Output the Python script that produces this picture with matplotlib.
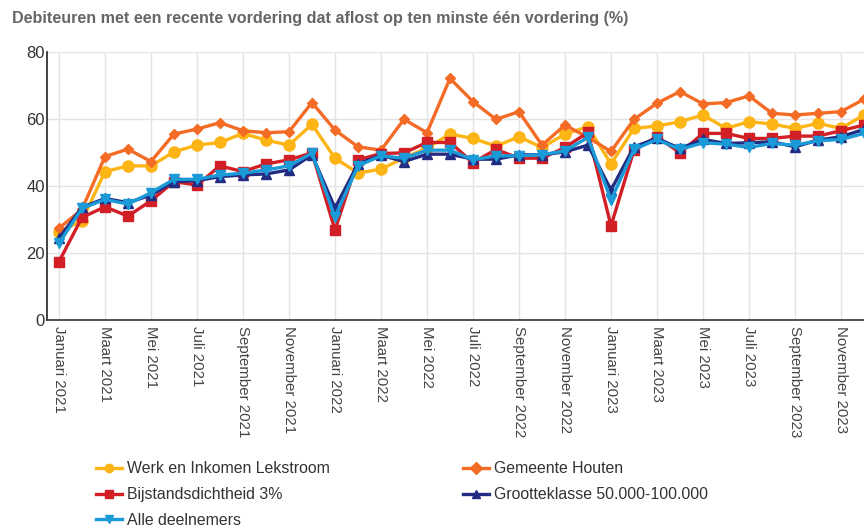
import matplotlib
matplotlib.use("Agg")
import matplotlib.pyplot as plt

# maanden jan 2021 .. dec 2023
maanden = ["Januari", "Februari", "Maart", "April", "Mei", "Juni", "Juli",
           "Augustus", "September", "Oktober", "November", "December"]
labels = [f"{m} {j}" for j in (2021, 2022, 2023) for m in maanden]

werk_lekstroom = [26.4, 29.6, 44.3, 46.0, 46.0, 50.2, 52.2, 53.0, 55.7, 53.7, 52.2, 58.4,
                  48.3, 43.9, 45.0, 48.4, 51.3, 55.5, 54.2, 51.9, 54.7, 51.5, 55.5, 57.7,
                  46.6, 57.2, 57.9, 59.2, 61.2, 57.2, 59.2, 58.5, 57.2, 58.7, 57.2, 61.2]
gemeente_houten = [27.4, 33.0, 48.8, 51.0, 47.3, 55.5, 57.0, 58.9, 56.5, 55.9, 56.2, 64.9,
                   56.7, 51.7, 50.7, 59.9, 55.9, 72.1, 65.2, 59.9, 62.2, 52.2, 58.2, 54.5,
                   50.3, 59.9, 64.7, 68.2, 64.5, 64.9, 66.9, 61.7, 61.2, 61.7, 62.2, 65.9]
bijstand_3 = [17.4, 30.6, 33.8, 31.0, 35.6, 41.3, 40.3, 46.0, 44.3, 46.6, 47.8, 49.9,
              26.9, 47.8, 49.7, 49.9, 53.0, 53.0, 47.0, 50.9, 48.3, 48.3, 51.5, 56.0,
              28.1, 50.7, 54.7, 49.9, 55.7, 55.7, 54.2, 54.2, 54.9, 54.9, 56.5, 58.2]
grootteklasse = [24.4, 33.6, 36.3, 35.0, 37.3, 41.3, 41.6, 42.8, 43.3, 43.6, 44.8, 49.3,
                 33.4, 46.6, 49.2, 47.3, 49.5, 49.5, 48.0, 48.0, 49.3, 49.3, 50.2, 52.2,
                 38.8, 51.7, 54.2, 51.2, 53.9, 52.7, 52.9, 53.2, 51.7, 53.7, 54.7, 56.9]
alle_deelnemers = [22.9, 33.3, 36.0, 34.6, 38.0, 42.0, 42.0, 43.3, 43.8, 44.8, 46.0, 49.8,
                   30.8, 46.0, 49.0, 48.3, 50.7, 50.7, 47.8, 49.0, 49.0, 49.3, 50.5, 54.5,
                   35.8, 50.9, 53.9, 50.9, 52.9, 52.5, 51.5, 52.7, 52.2, 53.5, 53.9, 55.7]

series = [
    ("Werk en Inkomen Lekstroom", werk_lekstroom, "#FDB515", "o", 8),
    ("Gemeente Houten", gemeente_houten, "#F46B25", "D", 5.5),
    ("Bijstandsdichtheid 3%", bijstand_3, "#D21F26", "s", 7),
    ("Grootteklasse 50.000-100.000", grootteklasse, "#232C83", "^", 7.5),
    ("Alle deelnemers", alle_deelnemers, "#1A9AD6", "v", 7.5),
]

fig = plt.figure(figsize=(8.64, 5.29), dpi=100)
ax = fig.add_axes([47 / 864, 1 - 320 / 529, 1 - 47 / 864, 268 / 529])

x = list(range(len(labels)))
handles = {}
for naam, waarden, kleur, marker, ms in series:
    h, = ax.plot(x, waarden, color=kleur, marker=marker, markersize=ms,
                 linewidth=2.4, label=naam)
    handles[naam] = h

ax.set_ylim(0, 80)
ax.set_yticks([0, 20, 40, 60, 80])
ax.set_xlim(-0.52, 35.0)
ax.set_xticks(x[::2])
ax.set_xticklabels(labels[::2], rotation=270, fontsize=10.8, color="#444444",
                   fontfamily="Liberation Sans")
ax.tick_params(axis="x", length=0, pad=4)
ax.tick_params(axis="y", length=0, pad=1.5, labelsize=12, labelcolor="#333333")
for t in ax.get_yticklabels():
    t.set_fontfamily("Liberation Sans")

ax.grid(True, color="#e3e3e3", linewidth=1)
ax.set_axisbelow(True)
for s in ("top", "right"):
    ax.spines[s].set_visible(False)
ax.spines["left"].set_color("#222222")
ax.spines["bottom"].set_color("#333333")
ax.spines["left"].set_linewidth(1.2)
ax.spines["bottom"].set_linewidth(1.2)

fig.text(12 / 864, 1 - 18 / 529, "Debiteuren met een recente vordering dat aflost op ten minste één vordering (%)",
         fontsize=11.6, fontweight="bold", color="#666666", va="center",
         fontfamily="Liberation Sans")

leg_kw = dict(frameon=False, loc="upper left", handlelength=1.6,
              handletextpad=0.35, labelspacing=0.68, borderaxespad=0,
              prop={"family": "Liberation Sans", "size": 11.4})
links = ["Werk en Inkomen Lekstroom", "Bijstandsdichtheid 3%", "Alle deelnemers"]
rechts = ["Gemeente Houten", "Grootteklasse 50.000-100.000"]
l1 = fig.legend([handles[n] for n in links], links,
                bbox_to_anchor=(90 / 864, 1 - 455 / 529), labelcolor="#333333", **leg_kw)
l2 = fig.legend([handles[n] for n in rechts], rechts,
                bbox_to_anchor=(457 / 864, 1 - 455 / 529), labelcolor="#333333", **leg_kw)
for leg in (l1, l2):
    for lh in leg.legend_handles:
        lh.set_markersize(6)

fig.savefig("out.png", dpi=100)
